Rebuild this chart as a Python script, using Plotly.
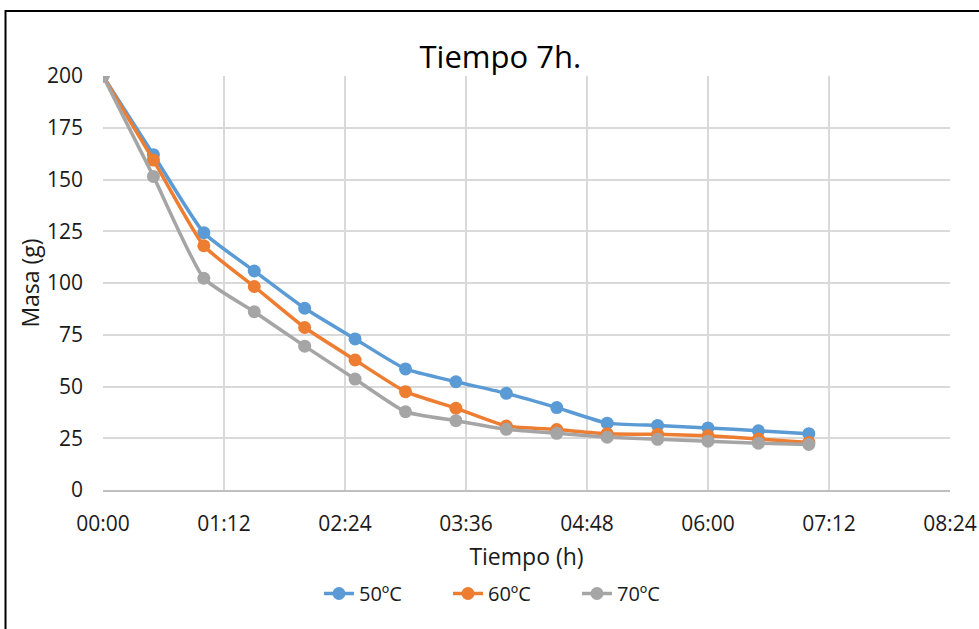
import plotly.graph_objects as go

# Data
time_labels = ["00:00", "00:30", "01:00", "01:30", "02:00", "02:30", "03:00", "03:30",
               "04:00", "04:30", "05:00", "05:30", "06:00", "06:30", "07:00"]
masa_50 = [200, 162, 124.3, 105.8, 87.8, 73, 58.5, 52.3, 46.7, 39.8, 32.3, 31.2, 30.0, 28.6, 27.2]
masa_60 = [200, 159.4, 118, 98.3, 78.5, 62.8, 47.5, 39.5, 30.9, 29.2, 27.2, 26.9, 26.2, 24.6, 23.0]
masa_70 = [200, 151.5, 102.3, 86.1, 69.5, 53.6, 37.8, 33.5, 29.3, 27.4, 25.5, 24.5, 23.6, 22.6, 22.0]
series_names = ["50ºC", "60ºC", "70ºC"]
colors = ["#5B9BD5", "#ED7D31", "#A5A5A5"]
x_tick_labels = ["00:00", "01:12", "02:24", "03:36", "04:48", "06:00", "07:12", "08:24"]
y_tick_vals = [0, 25, 50, 75, 100, 125, 150, 175, 200]


def to_min(s):
    h, m = s.split(":")
    return int(h) * 60 + int(m)


x_min = [to_min(t) for t in time_labels]
x_tick_vals = [to_min(t) for t in x_tick_labels]

fig = go.Figure()
for name, vals, col in zip(series_names, [masa_50, masa_60, masa_70], colors):
    fig.add_trace(go.Scatter(
        x=x_min, y=vals, name=name, mode="lines+markers",
        line=dict(color=col, width=3.5, shape="spline", smoothing=0.5),
        marker=dict(color=col, size=13),
    ))

font_family = "Open Sans, Noto Sans, sans-serif"
fig.update_layout(
    width=979, height=629,
    margin=dict(l=103, r=29, t=76, b=139),
    paper_bgcolor="white", plot_bgcolor="white",
    font=dict(family=font_family, color="#1a1a1a", size=20),
    title=dict(text="Tiempo 7h.", x=0.511, xanchor="center", xref="container",
               y=0.909, yanchor="middle", font=dict(size=31, color="#000000")),
    xaxis=dict(range=[0, 504], tickvals=x_tick_vals, ticktext=x_tick_labels,
               automargin=False,
               showgrid=True, gridcolor="#D9D9D9", gridwidth=1.5,
               showline=True, linecolor="#BFBFBF", linewidth=1.5,
               zeroline=False, ticks="", ticklabelstandoff=14,
               tickfont=dict(size=21, color="#1a1a1a"),
               title=dict(text="Tiempo (h)", font=dict(size=23, color="#1a1a1a"), standoff=13)),
    yaxis=dict(range=[0, 200], tickvals=y_tick_vals, automargin=False,
               showgrid=True, gridcolor="#D9D9D9", gridwidth=1.5,
               showline=False, zeroline=False, ticks="", ticklabelstandoff=19,
               tickfont=dict(size=21, color="#1a1a1a"),
               title=dict(text="Masa (g)", font=dict(size=23, color="#1a1a1a"), standoff=0)),
    legend=dict(orientation="h", x=0.255, xanchor="left", y=-0.25, yanchor="middle",
                font=dict(size=20, color="#1a1a1a"),
                entrywidth=84, entrywidthmode="pixels"),
    shapes=[dict(type="rect", xref="paper", yref="paper",
                 x0=-0.1151, x1=1.2, y0=-0.5, y1=1.157,
                 line=dict(color="black", width=2), fillcolor="rgba(0,0,0,0)", layer="below")],
)

fig.write_html("out.html")
